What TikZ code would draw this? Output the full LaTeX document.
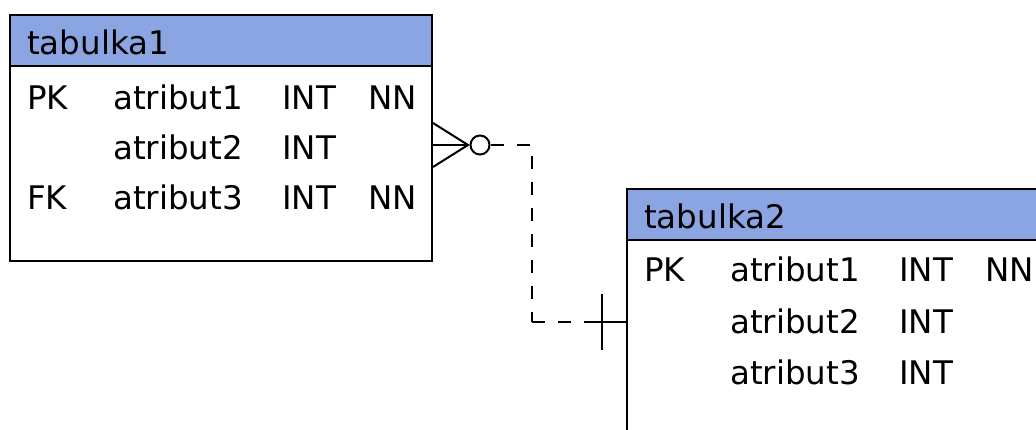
\documentclass[tikz,border=0pt]{standalone}
\usepackage{fontspec}
\setmainfont{DejaVu Sans}
\usetikzlibrary{positioning}

\definecolor{headblue}{RGB}{139,165,226}

\tikzset{
  tabbox/.style={draw,line width=2pt,minimum width=422pt,anchor=north west,inner sep=0pt},
  tabhead/.style={tabbox,fill=headblue,minimum height=51pt},
  cell/.style={anchor=west,inner sep=0pt,text height=23.7pt,text depth=0pt,
    font=\fontsize{32.5}{38}\selectfont},
  relline/.style={line width=2pt},
  reldash/.style={line width=2pt,dash pattern=on 13pt off 13pt,dash phase=13pt}
}

\begin{document}
\begin{tikzpicture}[x=1pt,y=1pt]
\useasboundingbox (0,0) rectangle (1036,-430);
\clip (0,0) rectangle (1036,-430);

% tabulka1
\node[tabbox,minimum height=246pt] (tab1) at (9,-14) {};
\node[tabhead] (tab1head) at (9,-14) {};
\node[cell] (t1name) at (27,-43) {tabulka1};
\node[cell] at (27,-98) {PK};
\node[cell] at (113,-98) {atribut1};
\node[cell] at (282,-98) {INT};
\node[cell] at (368,-98) {NN};
\node[cell] at (113,-148) {atribut2};
\node[cell] at (282,-148) {INT};
\node[cell] at (27,-198) {FK};
\node[cell] at (113,-198) {atribut3};
\node[cell] at (282,-198) {INT};
\node[cell] at (368,-198) {NN};

% tabulka2
\node[tabbox,minimum height=300pt] (tab2) at (626,-188) {};
\node[tabhead] (tab2head) at (626,-188) {};
\node[cell] (t2name) at (644,-217) {tabulka2};
\node[cell] at (644,-270) {PK};
\node[cell] at (730,-270) {atribut1};
\node[cell] at (899,-270) {INT};
\node[cell] at (985,-270) {NN};
\node[cell] at (730,-322) {atribut2};
\node[cell] at (899,-322) {INT};
\node[cell] at (730,-373) {atribut3};
\node[cell] at (899,-373) {INT};

% vztah
\coordinate (fk) at (tab1.east |- 0,-145);
\coordinate (pk) at (tab2.west |- 0,-322);
\coordinate (tip) at (468,-145);
\node[draw,circle,relline,fill=white,minimum size=19pt,inner sep=0pt] (opt) at (480,-145) {};
\coordinate (b1) at (504,-145);
\coordinate (b2) at (532,-145);
\coordinate (b3) at (532,-322);
\coordinate (b4) at (585,-322);

\draw[relline] ([yshift=22pt]fk) -- (tip) -- ([yshift=-22pt]fk);
\draw[relline] (fk) -- (tip);
\draw[relline] (opt) -- (b1);
\draw[reldash] (b1) -- (b2) -- (b3);
\draw[reldash,dash phase=0pt] (b3) -- (b4);
\draw[relline] (b4) -- (pk);
\draw[relline] (602,-294) -- (602,-350);
\end{tikzpicture}
\end{document}
